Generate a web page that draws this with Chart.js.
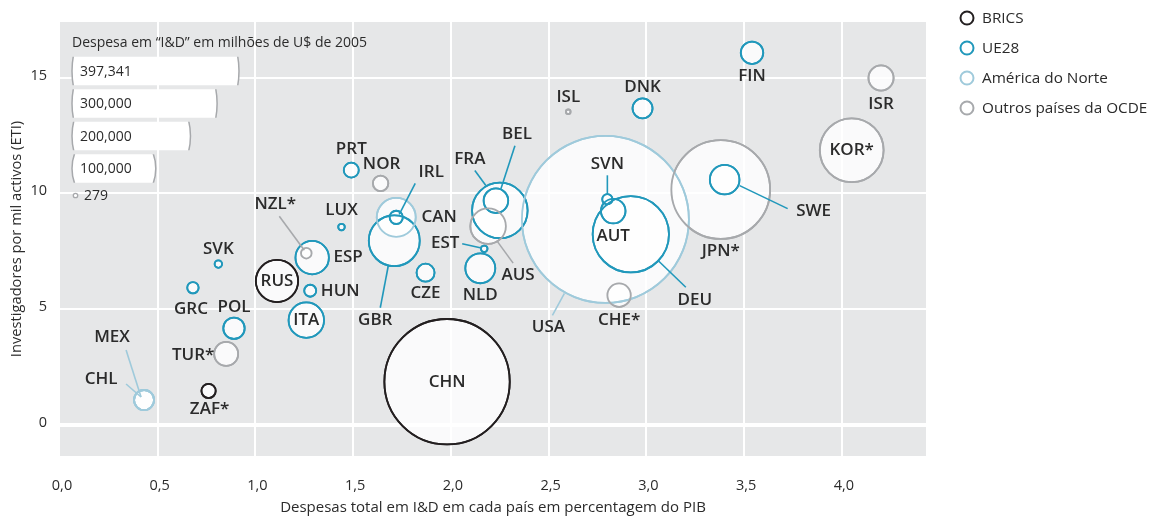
<!DOCTYPE html>
<html>
<head>
<meta charset="utf-8">
<script src="https://cdn.jsdelivr.net/npm/chart.js@4.4.1/dist/chart.umd.min.js"></script>
<style>
    html, body { margin: 0; padding: 0; background: #fff; }
</style>
</head>
<body>
<canvas id="rdChart" width="1153" height="518"></canvas>
<script>
// Countries, their group, R&D share of GDP (x), researchers per thousand (y) and spending (bubble size)
var countries = ["USA", "CHN", "JPN*", "DEU", "KOR*", "FRA", "GBR", "RUS", "CAN", "AUS",
    "ITA", "ESP", "NLD", "SWE", "BEL", "AUT", "ISR", "TUR*", "CHE*", "FIN",
    "POL", "MEX", "CHL", "DNK", "CZE", "NOR", "PRT", "ZAF*", "IRL", "HUN",
    "GRC", "NZL*", "SVN", "SVK", "EST", "LUX", "ISL"];
var groups = ["NA", "BRICS", "OCDE", "UE", "OCDE", "UE", "UE", "BRICS", "NA", "OCDE",
    "UE", "UE", "UE", "UE", "UE", "UE", "OCDE", "OCDE", "OCDE", "UE",
    "UE", "NA", "NA", "UE", "UE", "OCDE", "UE", "BRICS", "UE", "UE",
    "UE", "OCDE", "UE", "UE", "UE", "UE", "OCDE"];
var gerdShare = [2.79, 1.98, 3.38, 2.92, 4.05, 2.25, 1.71, 1.11, 1.72, 2.19,
    1.26, 1.29, 2.15, 3.40, 2.23, 2.83, 4.20, 0.85, 2.86, 3.54,
    0.89, 0.43, 0.43, 2.98, 1.87, 1.64, 1.49, 0.76, 1.72, 1.28,
    0.68, 1.26, 2.80, 0.81, 2.17, 1.44, 2.60];
var researchers = [8.87, 1.86, 10.16, 8.23, 11.86, 9.26, 7.95, 6.21, 8.96, 8.58,
    4.52, 7.22, 6.76, 10.59, 9.68, 9.23, 14.98, 3.06, 5.60, 16.07,
    4.17, 1.07, 1.07, 13.67, 6.57, 10.43, 11.0, 1.46, 8.96, 5.79,
    5.92, 7.41, 9.74, 6.94, 7.60, 8.54, 13.52];
var gerdMillions = [397341, 224000, 139000, 83000, 58000, 44000, 37000, 25500, 21700, 18000,
    17900, 15900, 12800, 12500, 8600, 8600, 9000, 8200, 7800, 7200,
    6500, 5700, 5700, 5700, 4600, 3400, 3200, 2900, 2500, 2050,
    1850, 1600, 1500, 780, 620, 620, 300];

var groupKeys = ["BRICS", "UE", "NA", "OCDE"];
var groupNames = ["BRICS", "UE28", "América do Norte", "Outros países da OCDE"];
var groupColors = ["#231f20", "#2198bb", "#9fcadb", "#a7a9ac"];

var xTicks = [0, 0.5, 1, 1.5, 2, 2.5, 3, 3.5, 4];
var yTicks = [0, 5, 10, 15];
var sizeKeyValues = [397341, 300000, 200000, 100000];
var sizeKeySmall = 279;

var MAX_VALUE = 397341;
var MAX_RADIUS = 83.5;
var TEXT = "#2b2b2b";
var FONT = "'Open Sans', sans-serif";

// label placement relative to bubble centre: [dx, dy, leader x1, y1, x2, y2]
var labelLayout = {
    "USA": [-57, 108, -41, 74, -53, 96],
    "JPN*": [0, 62],
    "DEU": [64, 66, 28, 27, 55, 53],
    "FRA": [-30, -51, -25, -40, -14, -25],
    "GBR": [-19, 79, -6, 25, -14, 67],
    "CAN": [43, 0],
    "ESP": [36, 0],
    "AUS": [30, 49, 9, 15, 25, 37],
    "NLD": [0, 27],
    "SWE": [89, 32, 15, 6, 63, 29],
    "BEL": [21, -67, 19, -55, 5, -12],
    "AUT": [0, 25],
    "TUR*": [-33, 1],
    "CHE*": [0, 25],
    "ISR": [0, 26],
    "FIN": [0, 23],
    "POL": [0, -21],
    "MEX": [-32, -63, -18, -50, -3, -3],
    "CHL": [-43, -21, -18, -16, -3, -3],
    "DNK": [0, -21],
    "CZE": [0, 20],
    "NOR": [1, -19],
    "ZAF*": [1, 18],
    "PRT": [0, -21],
    "IRL": [35, -45, 19, -34, 3, -3],
    "HUN": [30, 0],
    "GRC": [-2, 21],
    "NZL*": [-31, -49, -27, -37, -2, -3],
    "SVN": [0, -35, 0, -24, 0, -5],
    "SVK": [0, -15],
    "EST": [-39, -6, -22, -5, -4, -1],
    "LUX": [0, -17],
    "ISL": [0, -15]
};

function radiusFor(v) {
    return MAX_RADIUS * Math.sqrt(v / MAX_VALUE);
}

var datasets = groupKeys.map(function (key, gi) {
    var pts = [];
    var codes = [];
    countries.forEach(function (c, i) {
        if (groups[i] !== key) return;
        pts.push({ x: gerdShare[i], y: researchers[i], r: radiusFor(gerdMillions[i]) });
        codes.push(c);
    });
    return {
        label: groupNames[gi],
        data: pts,
        codes: codes,
        backgroundColor: "rgba(255,255,255,0.8)",
        borderColor: groupColors[gi],
        borderWidth: 1.8
    };
});

var plotBackground = {
    id: "plotBackground",
    beforeDraw: function (chart) {
        var a = chart.chartArea;
        chart.ctx.save();
        chart.ctx.fillStyle = "#e6e7e8";
        chart.ctx.fillRect(a.left, a.top, a.right - a.left, a.bottom - a.top);
        chart.ctx.restore();
    }
};

var sizeKey = {
    id: "sizeKey",
    beforeDatasetsDraw: function (chart) {
        var ctx = chart.ctx;
        var left = 72;
        ctx.save();
        ctx.fillStyle = TEXT;
        ctx.font = "14px " + FONT;
        ctx.textBaseline = "middle";
        ctx.fillText("Despesa em \u201cI&D\u201d em milh\u00f5es de U$ de 2005", left, 43);
        sizeKeyValues.forEach(function (v, i) {
            var r = radiusFor(v);
            var cy = 71 + i * 32.5;
            ctx.save();
            ctx.beginPath();
            ctx.rect(left - 5, cy - 14.25, 2 * r + 10, 28.5);
            ctx.clip();
            ctx.beginPath();
            ctx.arc(left + r, cy, r, 0, Math.PI * 2);
            ctx.fillStyle = "#ffffff";
            ctx.fill();
            ctx.strokeStyle = "#a7a9ac";
            ctx.lineWidth = 1.5;
            ctx.stroke();
            ctx.restore();
            ctx.fillStyle = TEXT;
            ctx.font = "14px " + FONT;
            ctx.fillText(v.toLocaleString("en-US"), left + 8, cy + 1);
        });
        var rs = radiusFor(sizeKeySmall);
        ctx.beginPath();
        ctx.arc(left + 3.5, 195.5, rs, 0, Math.PI * 2);
        ctx.fillStyle = "#ffffff";
        ctx.fill();
        ctx.strokeStyle = "#a7a9ac";
        ctx.lineWidth = 1.3;
        ctx.stroke();
        ctx.fillStyle = TEXT;
        ctx.fillText(String(sizeKeySmall), left + 12, 196);
        ctx.restore();
    }
};

// rings again on top of every fill, then leader lines and codes
var countryLabels = {
    id: "countryLabels",
    afterDatasetsDraw: function (chart) {
        var ctx = chart.ctx;
        ctx.save();
        chart.data.datasets.forEach(function (ds, di) {
            chart.getDatasetMeta(di).data.forEach(function (el) {
                ctx.beginPath();
                ctx.arc(el.x, el.y, el.options.radius, 0, Math.PI * 2);
                ctx.strokeStyle = ds.borderColor;
                ctx.lineWidth = 1.8;
                ctx.stroke();
            });
        });
        chart.data.datasets.forEach(function (ds, di) {
            var meta = chart.getDatasetMeta(di);
            meta.data.forEach(function (el, i) {
                var code = ds.codes[i];
                var lay = labelLayout[code] || [0, 0];
                if (lay.length > 2) {
                    ctx.beginPath();
                    ctx.moveTo(el.x + lay[2], el.y + lay[3]);
                    ctx.lineTo(el.x + lay[4], el.y + lay[5]);
                    ctx.strokeStyle = ds.borderColor;
                    ctx.lineWidth = 1.6;
                    ctx.stroke();
                }
                ctx.fillStyle = TEXT;
                ctx.font = "600 17px " + FONT;
                ctx.textAlign = "center";
                ctx.textBaseline = "middle";
                ctx.fillText(code, el.x + lay[0], el.y + lay[1]);
            });
        });
        ctx.restore();
    }
};

var groupLegend = {
    id: "groupLegend",
    afterDraw: function (chart) {
        var ctx = chart.ctx;
        ctx.save();
        groupNames.forEach(function (name, i) {
            var cy = 18 + i * 30;
            ctx.beginPath();
            ctx.arc(967, cy, 6.5, 0, Math.PI * 2);
            ctx.strokeStyle = groupColors[i];
            ctx.lineWidth = 2;
            ctx.stroke();
            ctx.fillStyle = TEXT;
            ctx.font = "15.3px " + FONT;
            ctx.textBaseline = "middle";
            ctx.fillText(name, 982, cy + 1);
        });
        ctx.restore();
    }
};

var rdChart = new Chart(document.getElementById("rdChart"), {
    type: "bubble",
    data: { datasets: datasets },
    plugins: [plotBackground, sizeKey, countryLabels, groupLegend],
    options: {
        responsive: false,
        animation: false,
        events: [],
        devicePixelRatio: 1,
        layout: { autoPadding: false, padding: { left: 0, top: 22, right: 227, bottom: 0 } },
        scales: {
            x: {
                type: "linear",
                min: 0,
                max: 4.43,
                afterBuildTicks: function (scale) {
                    scale.ticks = xTicks.map(function (v) { return { value: v }; });
                },
                afterFit: function (scale) { scale.height = 62; },
                border: { display: false },
                grid: {
                    color: "#ffffff",
                    lineWidth: function (c) { return c.tick && c.tick.value === 0 ? 0 : 2; },
                    drawTicks: false
                },
                ticks: {
                    padding: 21,
                    labelOffset: 2,
                    color: TEXT,
                    font: { family: FONT, size: 14.5 },
                    callback: function (v) { return v.toFixed(1).replace(".", ","); }
                },
                title: {
                    display: true,
                    text: "Despesas total em I&D em cada pa\u00eds em percentagem do PIB",
                    color: TEXT,
                    font: { family: FONT, size: 15 },
                    padding: { top: 0, bottom: 1 }
                }
            },
            y: {
                type: "linear",
                min: -1.35,
                max: 17.4,
                afterBuildTicks: function (scale) {
                    scale.ticks = yTicks.map(function (v) { return { value: v }; });
                },
                afterFit: function (scale) { scale.width = 60; },
                border: { display: false },
                grid: {
                    color: "#ffffff",
                    lineWidth: function (c) { return c.tick && c.tick.value === 0 ? 4 : 2; },
                    drawTicks: false
                },
                ticks: {
                    padding: 13,
                    labelOffset: -2,
                    color: TEXT,
                    font: { family: FONT, size: 14.5 },
                    callback: function (v) { return String(v); }
                },
                title: {
                    display: true,
                    text: "Investigadores por mil activos (ETI)",
                    color: TEXT,
                    font: { family: FONT, size: 14.7 },
                    padding: { top: 8, bottom: 0 }
                }
            }
        },
        plugins: {
            legend: { display: false },
            tooltip: { enabled: false }
        }
    }
});
</script>
</body>
</html>
